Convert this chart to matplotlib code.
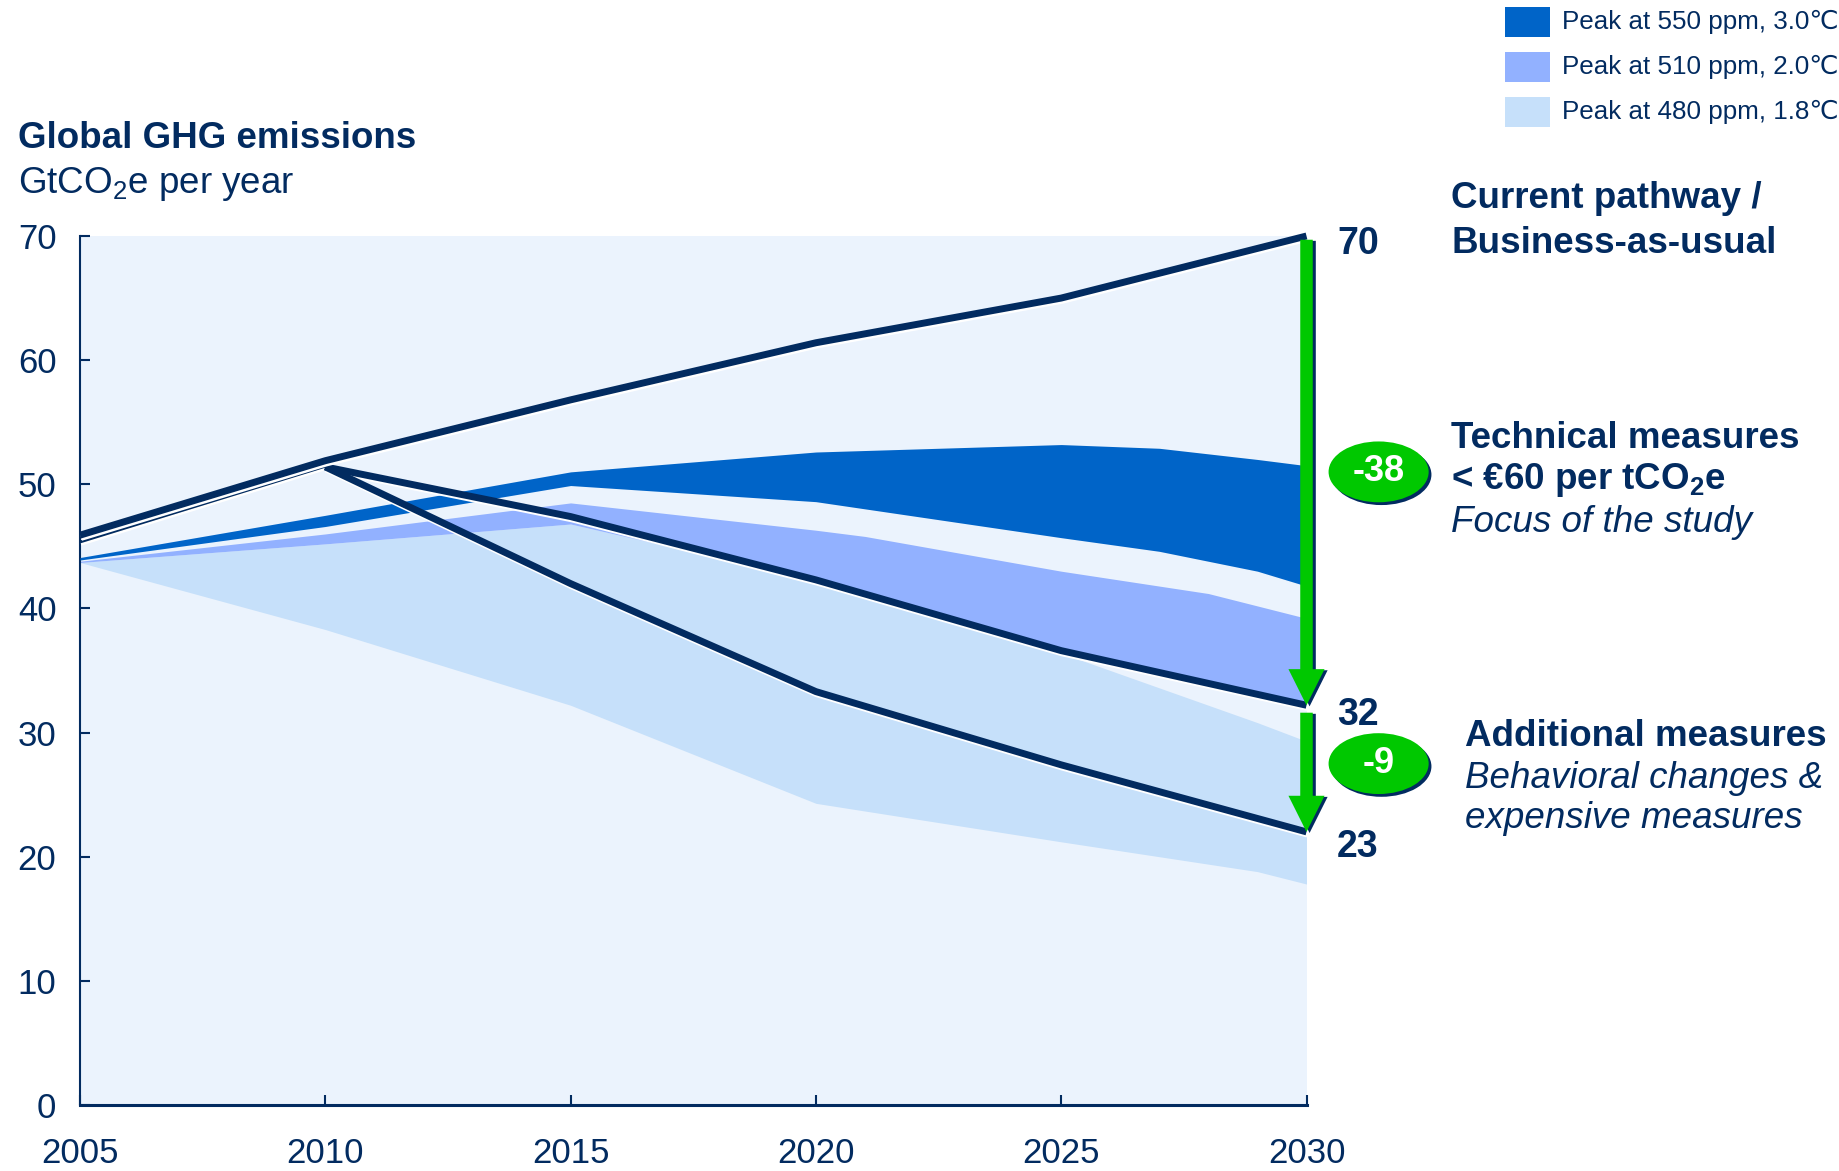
import matplotlib
matplotlib.use("Agg")
import matplotlib.pyplot as plt
import matplotlib.patheffects as pe
from matplotlib.patches import Ellipse, Rectangle, FancyArrowPatch

plt.rcParams["font.family"] = ["Liberation Sans", "DejaVu Sans"]
plt.rcParams["mathtext.fontset"] = "custom"
plt.rcParams["mathtext.rm"] = "Liberation Sans"
plt.rcParams["mathtext.bf"] = "Liberation Sans:bold"

NAVY = "#022B60"
GREEN = "#00C800"
BG = "#EBF3FD"

# ---- data ----
years = [2005, 2010, 2015, 2020, 2025, 2030]
bau = [45.9, 51.9, 56.8, 61.4, 65.0, 70.0]
history = [45.35, 51.45]          # thin line 2005-2010 under BAU
path_years = [2010, 2015, 2020, 2025, 2030]
path_32 = [51.4, 47.4, 42.3, 36.6, 32.2]
path_23 = [51.4, 42.0, 33.3, 27.4, 22.0]

band550_x = [2005, 2010, 2015, 2020, 2025, 2027, 2029, 2030]
band550_hi = [44.1, 47.5, 51.0, 52.6, 53.2, 52.9, 52.0, 51.5]
band550_lo = [43.9, 46.6, 49.9, 48.6, 45.7, 44.6, 43.0, 41.8]

band510_x = [2005, 2010, 2015, 2020, 2021, 2025, 2028, 2030]
band510_hi = [43.8, 46.0, 48.5, 46.3, 45.8, 43.0, 41.2, 39.2]
band510_lo = [43.7, 45.2, 46.8, 42.3, 41.2, 36.6, 34.0, 32.2]

band480_x = [2005, 2010, 2015, 2020, 2025, 2029, 2030]
band480_hi = [43.7, 45.2, 46.8, 42.3, 36.4, 30.8, 29.3]
band480_lo = [43.7, 38.3, 32.2, 24.3, 21.2, 18.8, 17.8]

legend_labels = ["Peak at 550 ppm, 3.0\u2103", "Peak at 510 ppm, 2.0\u2103", "Peak at 480 ppm, 1.8\u2103"]
legend_colors = ["#0064C8", "#92B1FF", "#C6E0FA"]

end_labels = [70, 32, 23]

W, H = 1839, 1171
fig = plt.figure(figsize=(W / 100, H / 100), dpi=100)
ax = fig.add_axes([80 / W, 1 - 1105 / H, (1306.5 - 80) / W, (1105 - 236) / H])
ax.set_facecolor(BG)

def fx(px):
    return px / W

def fy(py):
    return 1 - py / H

# bands
ax.fill_between(band480_x, band480_lo, band480_hi, color=legend_colors[2], lw=0, zorder=1)
ax.fill_between(band510_x, band510_lo, band510_hi, color=legend_colors[1], lw=0, zorder=2)
ax.fill_between(band550_x, band550_lo, band550_hi, color=legend_colors[0], lw=0, zorder=3)

halo = [pe.SimpleLineShadow(offset=(0.8, -1.6), shadow_color="white", alpha=1), pe.Normal()]
ax.plot(years[:2], history, color=NAVY, lw=2.0, zorder=5, path_effects=halo, solid_capstyle="butt")
ax.plot(path_years, path_32, color=NAVY, lw=5, zorder=6, path_effects=halo, clip_on=False, solid_capstyle="butt")
ax.plot(path_years, path_23, color=NAVY, lw=5, zorder=6, path_effects=halo, clip_on=False, solid_capstyle="butt")
ax.plot(years, bau, color=NAVY, lw=5, zorder=7, path_effects=halo, clip_on=False, solid_capstyle="butt")

# green arrows
arrow_fx = [pe.SimplePatchShadow(offset=(2.2, -0.8), shadow_rgbFace=NAVY, alpha=1), pe.Normal()]
ends = [bau[-1], path_32[-1], path_23[-1]]
for top, bot in [(ends[0] - 0.3, ends[1]), (ends[1] - 0.6, ends[2])]:
    arr = FancyArrowPatch((2030, top), (2030, bot),
                          arrowstyle="simple,head_length=2.6,head_width=2.6,tail_width=0.9",
                          mutation_scale=10, color=GREEN, lw=0, zorder=9,
                          shrinkA=0, shrinkB=0, clip_on=False, path_effects=arrow_fx)
    ax.add_patch(arr)

# end value labels
offsets = [(22, -6), (22, -7), (22, -11)]
for val, yv, off in zip(end_labels, ends, offsets):
    ax.annotate(str(val), xy=(2030, yv), xytext=off, textcoords="offset points",
                ha="left", va="center", fontsize=27, fontweight="bold", color=NAVY,
                annotation_clip=False)

# reduction badges
for a, b in [(end_labels[0], end_labels[1]), (end_labels[1], end_labels[2])]:
    mid = (a + b) / 2
    el = Ellipse((2031.47, mid), 2.04, 4.9, facecolor=GREEN, edgecolor="none",
                 clip_on=False, zorder=10,
                 path_effects=[pe.SimplePatchShadow(offset=(2, -2), shadow_rgbFace=NAVY, alpha=1), pe.Normal()])
    ax.add_patch(el)
    ax.text(2031.47, mid, f"{b - a}", ha="center", va="center", fontsize=26,
            fontweight="bold", color="white", zorder=11, clip_on=False)

# axes styling
ax.set_xlim(2005, 2030)
ax.set_ylim(0, 70)
ax.set_xticks(years)
ax.set_yticks(range(0, 71, 10))
for s in ["top", "right"]:
    ax.spines[s].set_visible(False)
ax.spines["left"].set_color(NAVY)
ax.spines["left"].set_linewidth(1.5)
ax.spines["bottom"].set_color(NAVY)
ax.spines["bottom"].set_linewidth(2.2)
ax.tick_params(axis="both", direction="in", length=7.5, width=1.5, color=NAVY,
               labelcolor=NAVY, labelsize=25)
ax.tick_params(axis="y", pad=17)
ax.tick_params(axis="x", pad=23)

# titles
fig.text(fx(18), fy(139), "Global GHG emissions", fontsize=26.5, fontweight="bold",
         color=NAVY, va="center")
fig.text(fx(18), fy(184), "GtCO$_2$e per year", fontsize=26.5, color=NAVY, va="center")

# right-hand annotations
fig.text(fx(1451), fy(199), "Current pathway /", fontsize=26.5, fontweight="bold", color=NAVY, va="center")
fig.text(fx(1451), fy(243), "Business-as-usual", fontsize=26.5, fontweight="bold", color=NAVY, va="center")
fig.text(fx(1451), fy(438), "Technical measures", fontsize=26.5, fontweight="bold", color=NAVY, va="center")
fig.text(fx(1451), fy(480), "< \u20ac60 per tCO$_\\mathbf{2}$e", fontsize=26.5, fontweight="bold", color=NAVY, va="center")
fig.text(fx(1451), fy(523), "Focus of the study", fontsize=26.5, style="italic", color=NAVY, va="center")
fig.text(fx(1465), fy(737), "Additional measures", fontsize=26.5, fontweight="bold", color=NAVY, va="center")
fig.text(fx(1465), fy(778), "Behavioral changes &", fontsize=26.5, style="italic", color=NAVY, va="center")
fig.text(fx(1465), fy(818), "expensive measures", fontsize=26.5, style="italic", color=NAVY, va="center")

# legend (manual)
for i, (lab, col) in enumerate(zip(legend_labels, legend_colors)):
    cy = 22 + 45 * i
    fig.add_artist(Rectangle((fx(1505), fy(cy + 15)), 45 / W, 30 / H, facecolor=col,
                             edgecolor="none", transform=fig.transFigure))
    fig.text(fx(1562), fy(cy), lab, fontsize=18.7, color=NAVY, va="center")

fig.savefig("out.png", dpi=100, facecolor="white")
